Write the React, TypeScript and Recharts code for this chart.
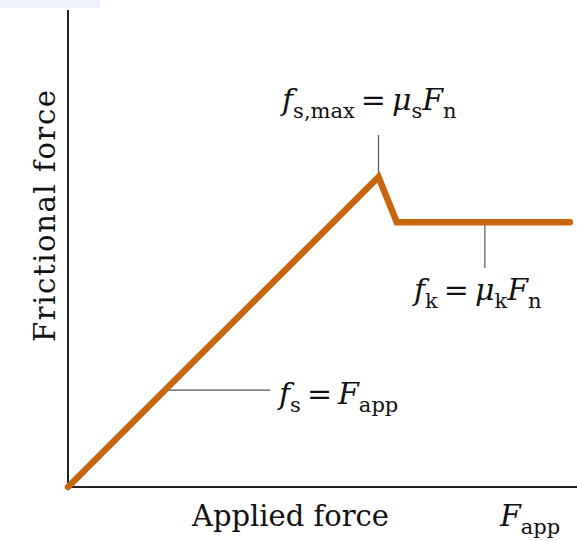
import React from 'react';
import { LineChart, Line, XAxis, YAxis, ReferenceLine } from 'recharts';

// Applied force (x) and frictional force (y), in arbitrary units 0–100
const appliedForce = [0, 61, 64.6, 98.6];
const frictionalForce = [0, 65, 55.5, 55.5];
const data = appliedForce.map((x, i) => ({ x, y: frictionalForce[i] }));

// Leader lines for annotations
const staticLeader = [{ x: 19.1, y: 20.3 }, { x: 39.7, y: 20.3 }];
const maxLeader = [{ x: 61, y: 65 }, { x: 61, y: 73.8 }];
const kineticLeader = [{ x: 81.9, y: 55.5 }, { x: 81.9, y: 45.9 }];

const xLabel = 'Applied force';
const yLabel = 'Frictional force';

const FONT = '"DejaVu Serif", "Liberation Serif", serif';
const ORANGE = '#C8650F';

const Sub = ({ children, size = 21, drop = 8 }: { children: React.ReactNode; size?: number; drop?: number }) => (
  <>
    <tspan dy={drop} fontSize={size} fontStyle="normal">{children}</tspan>
    <tspan dy={-drop}>{'\u200B'}</tspan>
  </>
);

export default function App() {
  return (
    <div style={{ position: 'absolute', left: 0, top: 0, width: 577, height: 541, background: '#fff' }}>
      <div style={{ position: 'absolute', left: 0, top: 0, width: 100, height: 8, background: '#EEF1FB' }} />
      <LineChart width={577} height={541} data={data} margin={{ top: 10, right: 0, bottom: 54, left: 68 }}>
        <XAxis type="number" dataKey="x" domain={[0, 100]} hide />
        <YAxis type="number" dataKey="y" domain={[0, 100]} hide />
        <ReferenceLine x={0} stroke="#222" strokeWidth={2} ifOverflow="visible" />
        <ReferenceLine y={0} stroke="#222" strokeWidth={2} ifOverflow="visible" />
        <ReferenceLine segment={staticLeader} stroke="#555" strokeWidth={1.2} ifOverflow="visible" />
        <ReferenceLine segment={maxLeader} stroke="#555" strokeWidth={1.2} ifOverflow="visible" />
        <ReferenceLine segment={kineticLeader} stroke="#555" strokeWidth={1.2} ifOverflow="visible" />
        <Line
          type="linear"
          dataKey="y"
          stroke={ORANGE}
          strokeWidth={6.5}
          strokeLinecap="round"
          strokeLinejoin="miter"
          dot={false}
          activeDot={false}
          isAnimationActive={false}
        />
      </LineChart>
      <svg width={577} height={541} style={{ position: 'absolute', left: 0, top: 0, pointerEvents: 'none' }}>
        <g fontFamily={FONT} fill="#111" fontSize={30}>
          <text x={282} y={110}>
            <tspan fontStyle="italic">f</tspan>
            <Sub>s,max</Sub>
            <tspan dx={6}>=</tspan>
            <tspan dx={6} fontStyle="italic">μ</tspan>
            <Sub>s</Sub>
            <tspan fontStyle="italic">F</tspan>
            <Sub>n</Sub>
          </text>
          <text x={414} y={300}>
            <tspan fontStyle="italic">f</tspan>
            <Sub>k</Sub>
            <tspan dx={6}>=</tspan>
            <tspan dx={6} fontStyle="italic">μ</tspan>
            <Sub>k</Sub>
            <tspan fontStyle="italic">F</tspan>
            <Sub>n</Sub>
          </text>
          <text x={279} y={404}>
            <tspan fontStyle="italic">f</tspan>
            <Sub>s</Sub>
            <tspan dx={6}>=</tspan>
            <tspan dx={6} fontStyle="italic">F</tspan>
            <Sub>app</Sub>
          </text>
          <text x={192} y={526} fontSize={29}>{xLabel}</text>
          <text x={500} y={526}>
            <tspan fontStyle="italic">F</tspan>
            <Sub>app</Sub>
          </text>
          <text
            x={55}
            y={216}
            fontSize={29}
            textAnchor="middle"
            textLength={252}
            lengthAdjust="spacing"
            transform="rotate(-90 55 216)"
          >
            {yLabel}
          </text>
        </g>
      </svg>
    </div>
  );
}
